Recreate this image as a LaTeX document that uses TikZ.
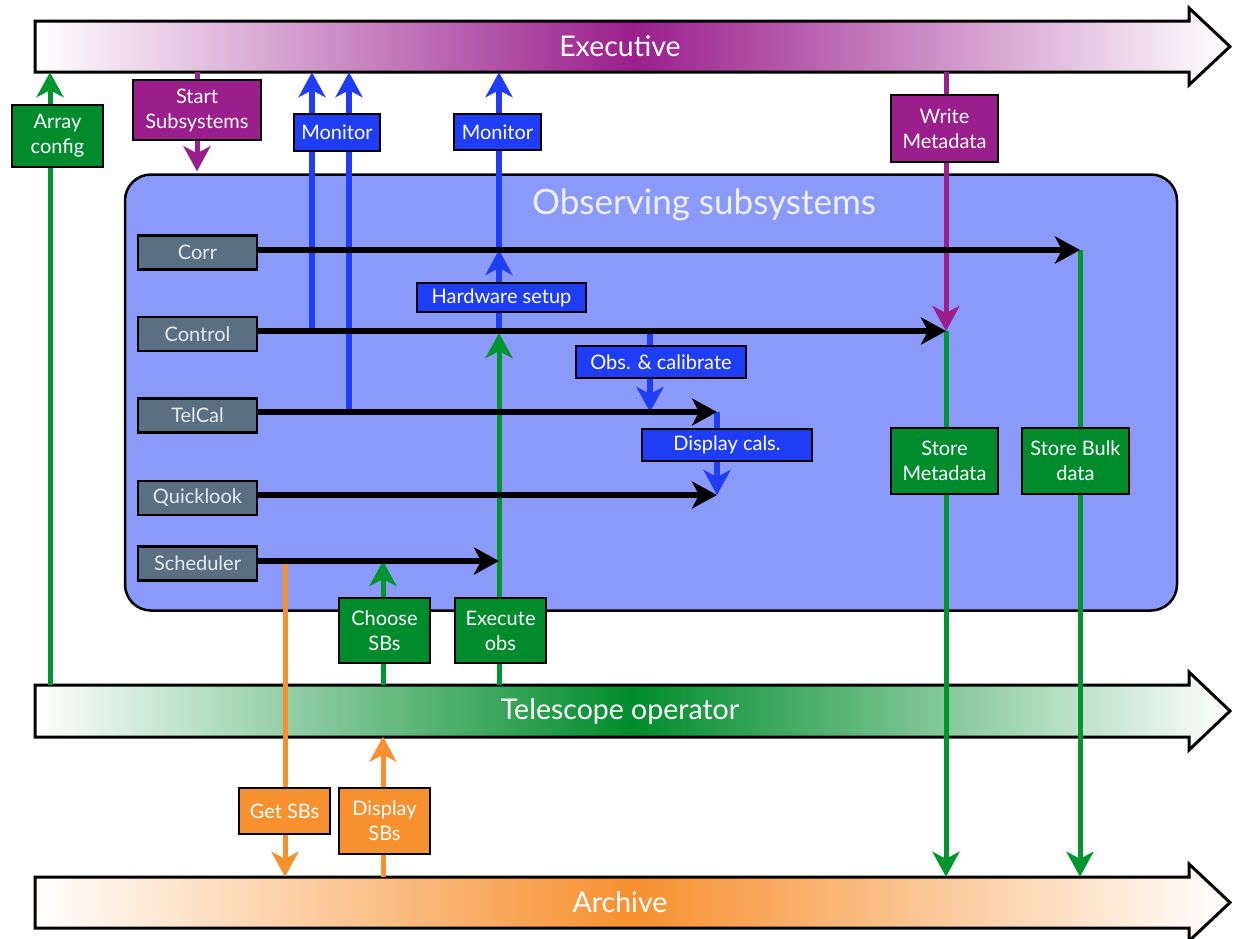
\documentclass[tikz,border=0pt]{standalone}
\usepackage{fontspec}
\setmainfont{Lato}
\usetikzlibrary{arrows.meta}
\definecolor{cpurple}{HTML}{9A1F8C}
\definecolor{cgreen}{HTML}{008C2C}
\definecolor{cgreenline}{HTML}{00962F}
\definecolor{cblue}{HTML}{1F3DF5}
\definecolor{corange}{HTML}{F7902F}
\definecolor{cgray}{HTML}{5B6F83}
\definecolor{cgraytext}{HTML}{E6EAEE}
\definecolor{cpanel}{HTML}{8B9AF8}
\definecolor{ctitle}{HTML}{EEF0FF}
\pgfdeclarelayer{background}
\pgfdeclarelayer{wires}
\pgfsetlayers{background,wires,main}
\begin{document}
\begin{tikzpicture}[x=1pt,y=-1pt,
  box/.style={draw=black,line width=2.5pt,inner sep=0pt,align=center,text=white,
    font=\fontsize{20}{25}\selectfont},
  subbox/.style={box,fill=cgray,text=cgraytext,minimum width=119pt,minimum height=34pt},
  purplebox/.style={box,fill=cpurple},
  greenbox/.style={box,fill=cgreen},
  bluebox/.style={box,fill=cblue},
  orangebox/.style={box,fill=corange},
  banner/.style={line width=3pt,draw=black,line join=miter,left color=white,right color=white},
  bannerlabel/.style={inner sep=0pt,minimum height=51pt,text=white,font=\fontsize{28.5}{32}\selectfont},
  tip/.style={-{Stealth[length=25pt,width=27pt,inset=7pt]}},
  greenwire/.style={line width=5pt,draw=cgreenline,tip},
  bluewire/.style={line width=6pt,draw=cblue},
  purplewire/.style={line width=5pt,draw=cpurple},
  orangewire/.style={line width=5pt,draw=corange,tip},
  blackwire/.style={line width=5.5pt,draw=black,tip},
]
\useasboundingbox (0,0) rectangle (1234,938);

% ---- panel and the three banner arrows ----
\begin{pgfonlayer}{background}
  \node[draw=black,line width=2.5pt,fill=cpanel,rounded corners=26pt,
        minimum width=1052pt,minimum height=436pt,inner sep=0pt] (panel) at (651,392.5) {};
  \draw[banner,middle color=cpurple]
    (35,21) -- (1189,21) -- (1189,8) -- (1230,46.5) -- (1189,85) -- (1189,72) -- (35,72) -- cycle;
  \draw[banner,middle color=cgreen]
    (35,685) -- (1189,685) -- (1189,672) -- (1230,711) -- (1189,750) -- (1189,737) -- (35,737) -- cycle;
  \draw[banner,middle color=corange]
    (35,877) -- (1189,877) -- (1189,864) -- (1230,902.5) -- (1189,941) -- (1189,928) -- (35,928) -- cycle;
\end{pgfonlayer}

\node[bannerlabel] (exec) at (620,46.5) {Executive};
\node[bannerlabel] (tel) at (620,711) {Telescope operator};
\node[bannerlabel] (archive) at (620,902.5) {Archive};
\node[text=ctitle,inner sep=0pt,font=\fontsize{35}{40}\selectfont] (title) at (704,205) {Observing subsystems};

% ---- subsystem boxes ----
\node[subbox] (corr) at (197.5,252.5) {Corr};
\node[subbox] (control) at (197.5,334) {Control};
\node[subbox] (telcal) at (197.5,415.5) {TelCal};
\node[subbox] (quick) at (197.5,498) {Quicklook};
\node[subbox] (sched) at (197.5,563.5) {Scheduler};

% ---- action boxes ----
\node[greenbox,minimum width=91pt,minimum height=62pt] (arrcfg) at (57.5,136) {Array\\config};
\node[purplebox,minimum width=128pt,minimum height=60pt] (startss) at (197,110) {Start\\Subsystems};
\node[bluebox,minimum width=86pt,minimum height=37pt] (mon1) at (337,132.5) {Monitor};
\node[bluebox,minimum width=87pt,minimum height=36pt] (mon2) at (497.5,132) {Monitor};
\node[purplebox,minimum width=107pt,minimum height=67pt] (writemeta) at (944.5,128.5) {Write\\Metadata};
\node[bluebox,minimum width=169pt,minimum height=29pt] (hw) at (501.5,297.5) {Hardware setup};
\node[bluebox,minimum width=170pt,minimum height=32pt] (obscal) at (661,362) {Obs. \& calibrate};
\node[bluebox,minimum width=170pt,minimum height=32pt] (dispcal) at (727,445) {Display cals.};
\node[greenbox,minimum width=107pt,minimum height=66pt] (storemeta) at (944.5,461) {Store\\Metadata};
\node[greenbox,minimum width=107pt,minimum height=66pt] (bulk) at (1075.5,461) {Store Bulk\\data};
\node[greenbox,minimum width=91pt,minimum height=65pt] (choose) at (384.5,630.5) {Choose\\SBs};
\node[greenbox,minimum width=91pt,minimum height=65pt] (execobs) at (500.5,630.5) {Execute\\obs};
\node[orangebox,minimum width=91pt,minimum height=46pt] (getsb) at (284.5,811) {Get SBs};
\node[orangebox,minimum width=91pt,minimum height=66pt] (dispsb) at (384.5,821) {Display\\SBs};

% ---- arrow ends and line positions ----
\coordinate (corrEnd) at (1080,250);
\coordinate (ctrlEnd) at (946,331);
\coordinate (telEnd) at (717,412);
\coordinate (qlEnd) at (717,495);
\coordinate (schEnd) at (499,561);
\coordinate (xArr) at (50,0);
\coordinate (xStart) at (197,0);
\coordinate (xMonA) at (312,0);
\coordinate (xMonB) at (349,0);
\coordinate (xHw) at (499,0);
\coordinate (xObs) at (650,0);
\coordinate (xChoose) at (383,0);
\coordinate (xGet) at (285,0);

\begin{pgfonlayer}{wires}
  % executive links
  \draw[greenwire] (xArr |- tel.north) -- (xArr |- exec.south);
  \draw[purplewire,tip] (xStart |- exec.south) -- ([yshift=2pt]xStart |- panel.north);
  \draw[purplewire,tip] (ctrlEnd |- exec.south) -- (ctrlEnd);
  \draw[bluewire,tip] (xMonA |- ctrlEnd) -- (xMonA |- exec.south);
  \draw[bluewire,tip] (xMonB |- telEnd) -- (xMonB |- exec.south);
  \draw[bluewire,tip] (xHw |- corrEnd) -- (xHw |- exec.south);
  % hardware setup
  \draw[bluewire,tip] (xHw |- hw.north) -- (xHw |- corrEnd);
  \draw[bluewire] (xHw |- hw.south) -- (xHw |- ctrlEnd);
  \draw[greenwire] (xHw |- tel.north) -- ([yshift=-2pt]xHw |- ctrlEnd);
  % observing and calibration
  \draw[bluewire,tip] (xObs |- ctrlEnd) -- (xObs |- telEnd);
  \draw[bluewire,tip] (telEnd) -- (qlEnd);
  % storage
  \draw[greenwire] (ctrlEnd) -- (ctrlEnd |- archive.north);
  \draw[greenwire] (corrEnd) -- (corrEnd |- archive.north);
  % scheduling blocks
  \draw[greenwire] (xChoose |- tel.north) -- (xChoose |- schEnd);
  \draw[orangewire] (xGet |- schEnd) -- (xGet |- archive.north);
  \draw[orangewire] (xChoose |- archive.north) -- (xChoose |- tel.south);
  % subsystem outputs
  \draw[blackwire] (corr.east |- corrEnd) -- (corrEnd);
  \draw[blackwire] (control.east |- ctrlEnd) -- (ctrlEnd);
  \draw[blackwire] (telcal.east |- telEnd) -- (telEnd);
  \draw[blackwire] (quick.east |- qlEnd) -- (qlEnd);
  \draw[blackwire] (sched.east |- schEnd) -- (schEnd);
\end{pgfonlayer}
\end{tikzpicture}
\end{document}
